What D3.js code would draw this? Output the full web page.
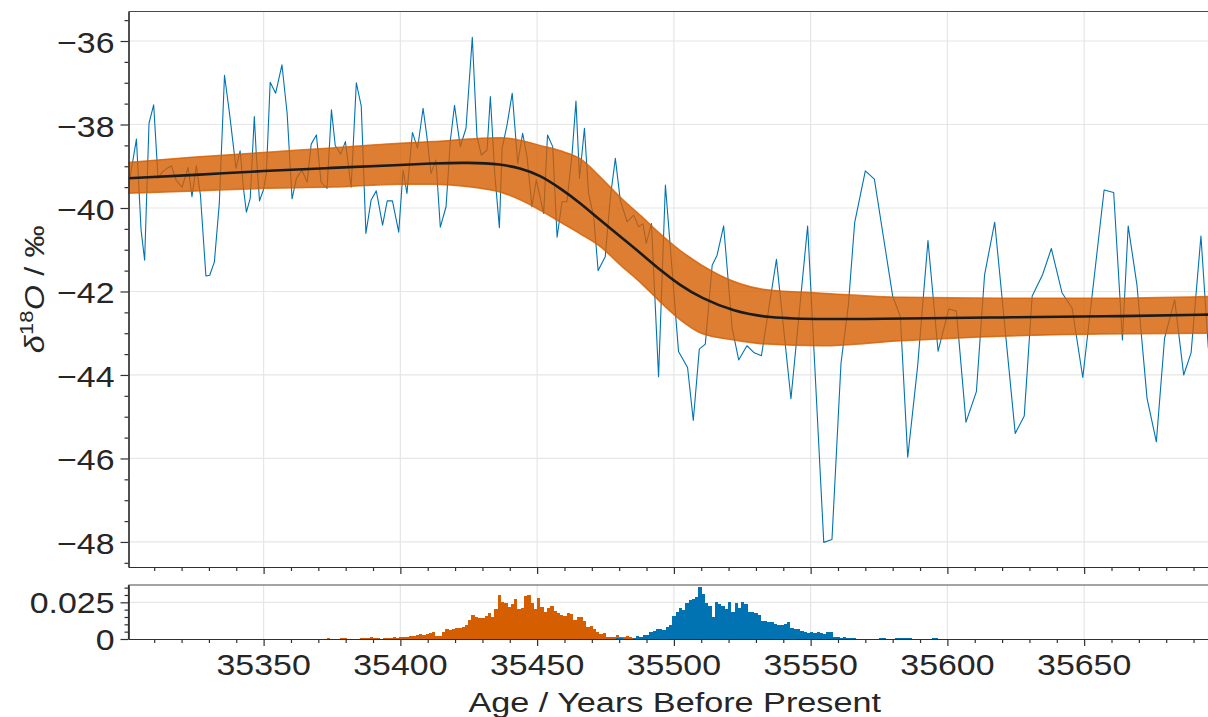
<!DOCTYPE html>
<html><head><meta charset="utf-8">
<script src="https://cdn.jsdelivr.net/npm/d3@7"></script>
<style>
html,body{margin:0;padding:0;background:#fff;overflow:hidden;}
svg{display:block;}
text{font-family:"Liberation Sans",Arial,Helvetica,sans-serif;fill:#262626;}
</style></head><body>
<svg id="chart" width="1208" height="717"></svg>
<script>
// ---------- data ----------
const blueAges = [
35300.6,35303.5,35305.2,35306.5,35308.1,35309.8,35311.4,35313.1,35314.7,35316.3,
35318.0,35320.2,35322.4,35323.8,35325.4,35326.9,35328.9,35330.3,35332.0,35333.8,
35335.7,35337.6,35339.9,35341.4,35342.7,35343.7,35345.1,35346.6,35347.3,35348.5,
35350.0,35351.0,35352.4,35354.4,35356.7,35358.6,35360.4,35362.0,35364.0,35365.9,
35367.4,35369.3,35371.0,35373.2,35374.8,35376.2,35378.2,35379.9,35382.0,35383.9,
35385.7,35387.4,35389.3,35391.2,35393.5,35395.2,35397.1,35399.4,35401.0,35402.4,
35404.4,35406.3,35408.3,35409.7,35411.2,35413.0,35414.6,35416.7,35418.3,35419.8,
35421.9,35424.0,35426.3,35428.0,35429.6,35431.7,35432.9,35434.5,35436.2,35437.2,
35439.0,35440.9,35442.9,35444.7,35446.3,35448.1,35449.7,35452.4,35453.8,35455.7,
35457.3,35459.1,35460.9,35462.8,35464.2,35465.5,35467.3,35468.8,35470.7,35472.3,
35474.9,35476.8,35478.6,35480.4,35482.9,35485.3,35487.1,35488.7,35489.9,35491.8,
35494.4,35496.9,35501.7,35505.0,35507.1,35509.3,35511.5,35514.0,35515.8,35518.2,
35521.3,35523.7,35526.7,35529.4,35532.0,35537.5,35542.8,35548.9,35554.8,35557.8,
35561.1,35563.8,35566.1,35570.0,35573.3,35580.0,35582.8,35585.5,35589.1,35592.9,
35596.6,35600.5,35603.3,35606.8,35610.6,35613.6,35617.3,35624.8,35628.1,35631.0,
35634.8,35638.0,35641.9,35645.6,35649.5,35657.3,35660.8,35664.0,35666.1,35669.3,
35673.0,35676.4,35679.4,35683.1,35686.4,35689.1,35692.7,35695.4];
const blueValues = [
-39.49,-38.35,-40.53,-41.25,-37.97,-37.53,-39.29,-39.13,-39.05,-38.99,
-39.33,-39.50,-39.03,-39.73,-38.99,-39.69,-41.63,-41.61,-41.29,-39.89,
-36.82,-37.77,-39.05,-38.63,-39.57,-40.10,-39.77,-37.81,-38.69,-39.83,
-39.55,-39.17,-36.99,-37.25,-36.57,-37.73,-39.78,-39.29,-39.09,-39.38,
-38.47,-38.25,-39.38,-39.53,-37.65,-38.51,-38.71,-38.41,-39.50,-37.00,
-37.56,-40.61,-39.81,-39.59,-40.41,-39.83,-39.83,-40.58,-39.09,-39.65,
-38.19,-38.57,-37.61,-38.29,-39.17,-38.85,-40.46,-39.97,-38.37,-37.54,
-38.53,-38.09,-35.91,-38.29,-38.73,-38.61,-37.33,-39.17,-40.47,-38.57,
-38.01,-37.25,-38.93,-38.21,-38.77,-39.97,-39.33,-40.13,-38.25,-38.53,
-40.70,-39.85,-39.85,-38.69,-37.44,-39.29,-38.09,-39.65,-40.21,-41.50,
-41.17,-39.73,-38.81,-39.81,-40.33,-40.17,-40.45,-40.38,-40.85,-40.37,
-44.04,-39.45,-43.44,-43.82,-45.09,-43.38,-43.26,-41.37,-41.13,-40.43,
-42.88,-43.64,-43.30,-43.47,-43.54,-41.23,-44.57,-40.43,-48.01,-47.94,
-43.72,-42.32,-40.35,-39.11,-39.31,-42.11,-42.60,-45.97,-43.80,-40.78,
-43.43,-42.42,-42.47,-45.13,-44.40,-41.60,-40.34,-45.40,-44.98,-42.11,
-41.60,-40.97,-42.03,-42.40,-44.06,-39.57,-39.63,-43.16,-40.43,-41.84,
-44.56,-45.60,-43.12,-42.20,-44.00,-43.47,-40.67,-43.36];

const bandAges   = [35300,35325,35350,35375,35400,35412,35425,35437,35444,35451,35458.5,35466,35473,35480.5,35488,35495,35502,35510,35522,35534,35554,35583,35620,35656,35700];
const bandMedian = [-39.29,-39.21,-39.11,-39.04,-38.97,-38.93,-38.91,-38.95,-39.05,-39.21,-39.53,-39.89,-40.29,-40.69,-41.09,-41.49,-41.84,-42.16,-42.48,-42.63,-42.67,-42.65,-42.62,-42.60,-42.55];
const bandUpper  = [-38.91,-38.78,-38.67,-38.56,-38.45,-38.41,-38.35,-38.32,-38.38,-38.50,-38.63,-38.83,-39.25,-39.75,-40.19,-40.62,-41.00,-41.36,-41.76,-41.96,-42.04,-42.14,-42.16,-42.16,-42.11];
const bandLower  = [-39.65,-39.59,-39.53,-39.50,-39.43,-39.43,-39.49,-39.63,-39.81,-40.05,-40.34,-40.63,-40.92,-41.37,-41.80,-42.25,-42.66,-43.00,-43.16,-43.26,-43.30,-43.18,-43.07,-43.02,-43.00];

const binWidth = 1.2;
const orangeBinStart = 35372;
const orangeDensity = [
0,0.0005,0.0003,0,0,0.0005,0.0005,0,0,0,
0.0003,0.001,0.0008,0.001,0.0012,0.0009,0.0005,0.0003,0.0004,0.0006,
0.0008,0.0012,0.001,0.0012,0.0013,0.0013,0.0022,0.0018,0.0028,0.0034,
0.0027,0.0036,0.0043,0.005,0.0018,0.002,0.005,0.0066,0.0058,0.007,
0.0072,0.0077,0.0085,0.0098,0.013,0.0164,0.0148,0.014,0.0145,0.016,
0.0175,0.0152,0.0207,0.0298,0.0255,0.0245,0.022,0.024,0.0275,0.0205,
0.021,0.029,0.030,0.0248,0.0207,0.028,0.022,0.0186,0.0209,0.0225,
0.019,0.0175,0.0163,0.0157,0.018,0.017,0.013,0.0152,0.0152,0.012,
0.0084,0.0089,0.0066,0.0045,0.0034,0.0043,0.0016,0.0014,0.0014,0.0027,
0.0014,0.0014,0.0023,0.0014,0.0010,0.0003];
const blueBinStart = 35479;
const blueDensity = [
0.0007,0.0005,0,0.0003,0.0003,0.0008,0.0023,0.0015,0.0027,0.0027,
0.0045,0.0054,0.007,0.0068,0.006,0.0084,0.0095,0.0159,0.0184,0.0213,
0.020,0.0245,0.0266,0.0275,0.0288,0.0352,0.0306,0.0248,0.0227,0.0152,
0.025,0.024,0.0225,0.0204,0.025,0.0186,0.0248,0.0213,0.0254,0.0236,
0.0182,0.0182,0.018,0.0165,0.0125,0.0125,0.0118,0.0118,0.0105,0.0095,
0.0095,0.0100,0.0114,0.0075,0.0066,0.0066,0.0057,0.0048,0.0043,0.0045,
0.0040,0.0045,0.0040,0.0036,0.0050,0.0050,0.0016,0.0016,0.0010,0.0012,
0.0010,0.0008,0.0010,0.0003,0.0003,0,0.0003,0,0,0.0003,
0.0007,0.0007,0,0,0.0003,0.0007,0.0007,0.0007,0.0007,0.0005,
0,0,0,0,0,0.0003,0.0005,0.0005];

const xTicks = [35350,35400,35450,35500,35550,35600,35650];
const yTicks = [-36,-38,-40,-42,-44,-46,-48];
const histTicks = [0,0.025];
const xLabel = "Age / Years Before Present";

// ---------- layout ----------
const C = {blue:"#0173b2", orange:"#d55e00", axis:"#303030", grid:"#e6e6e6", median:"#1c1c1c"};
const svg = d3.select("#chart");
const xs = d3.scaleLinear().domain([35300.6,35700]).range([128.5,1220.9]);
const ys = d3.scaleLinear().domain([-48.6,-35.293]).range([567,11.5]);
const yh = d3.scaleLinear().domain([0,0.0368]).range([639,585]);
const [L,R] = xs.range();
const [mB,mT] = ys.range();
const [hB,hT] = yh.range();

const xMinor = d3.range(35310,35700,10).filter(v=>v%50!==0);
const yMinor = d3.range(-48.5,-35.2,0.5).filter(v=>Math.abs(v%2)>0.01);
const hMinor = d3.range(0.005,0.0366,0.005).filter(v=>Math.abs(v-0.025)>1e-6);

// grid
const grid = svg.append("g").attr("stroke",C.grid).attr("stroke-width",1.2);
grid.selectAll(".gx").data(xTicks).join("line").attr("x1",d=>xs(d)).attr("x2",d=>xs(d)).attr("y1",mT).attr("y2",mB);
grid.selectAll(".gy").data(yTicks).join("line").attr("class","gy").attr("x1",L).attr("x2",R).attr("y1",d=>ys(d)).attr("y2",d=>ys(d));
grid.selectAll(".hx").data(xTicks).join("line").attr("class","hx").attr("x1",d=>xs(d)).attr("x2",d=>xs(d)).attr("y1",hT).attr("y2",hB);
grid.selectAll(".hy").data([0.025]).join("line").attr("class","hy").attr("x1",L).attr("x2",R).attr("y1",d=>yh(d)).attr("y2",d=>yh(d));

// clip
svg.append("clipPath").attr("id","mclip").append("rect").attr("x",L).attr("y",mT).attr("width",R-L).attr("height",mB-mT);
const plot = svg.append("g").attr("clip-path","url(#mclip)");

const idx = d3.range(blueAges.length);
plot.append("path").datum(idx)
  .attr("d", d3.line().x(i=>xs(blueAges[i])).y(i=>ys(blueValues[i])))
  .attr("fill","none").attr("stroke",C.blue).attr("stroke-width",1.1).attr("stroke-linejoin","round");

const bi = d3.range(bandAges.length);
plot.append("path").datum(bi)
  .attr("d", d3.area().curve(d3.curveMonotoneX).x(i=>xs(bandAges[i])).y0(i=>ys(bandLower[i])).y1(i=>ys(bandUpper[i])))
  .attr("fill",C.orange).attr("fill-opacity",0.8).attr("stroke","none");
[bandUpper,bandLower].forEach(arr=>{
  plot.append("path").datum(bi)
    .attr("d", d3.line().curve(d3.curveMonotoneX).x(i=>xs(bandAges[i])).y(i=>ys(arr[i])))
    .attr("fill","none").attr("stroke",C.orange).attr("stroke-opacity",0.8).attr("stroke-width",1.5);
});
plot.append("path").datum(bi)
  .attr("d", d3.line().curve(d3.curveBasis).x(i=>xs(bandAges[i])).y(i=>ys(bandMedian[i])))
  .attr("fill","none").attr("stroke",C.median).attr("stroke-width",2.6);

// histogram
const hist = svg.append("g").attr("shape-rendering","crispEdges");
function bars(start, dens, color){
  hist.append("g").selectAll("rect").data(dens.map((d,i)=>({x0:start+i*binWidth,x1:start+(i+1)*binWidth,v:d})).filter(d=>d.v>0))
    .join("rect").attr("x",d=>xs(d.x0)).attr("width",d=>xs(d.x1)-xs(d.x0))
    .attr("y",d=>yh(d.v)).attr("height",d=>yh(0)-yh(d.v)).attr("fill",color);
}
bars(orangeBinStart, orangeDensity, C.orange);
bars(blueBinStart, blueDensity, C.blue);

// axes
function styleAxis(g){ g.selectAll("path,line").attr("stroke",C.axis).attr("stroke-width",1.2); g.selectAll("text").remove(); }
svg.append("g").attr("transform",`translate(${L},0)`).call(d3.axisLeft(ys).tickValues(yTicks).tickSize(8).tickSizeOuter(0)).call(styleAxis);
svg.append("g").attr("transform",`translate(${L},0)`).call(d3.axisLeft(ys).tickValues(yMinor).tickSize(4).tickSizeOuter(0)).call(styleAxis);
svg.append("g").attr("transform",`translate(0,${mB})`).call(d3.axisBottom(xs).tickValues(xTicks).tickSize(7).tickSizeOuter(0)).call(styleAxis);
svg.append("g").attr("transform",`translate(0,${mB})`).call(d3.axisBottom(xs).tickValues(xMinor).tickSize(4).tickSizeOuter(0)).call(styleAxis);
svg.append("line").attr("x1",L).attr("x2",R).attr("y1",mT).attr("y2",mT).attr("stroke","#4a4a4a").attr("stroke-width",1.2);

svg.append("g").attr("transform",`translate(${L},0)`).call(d3.axisLeft(yh).tickValues(histTicks).tickSize(8).tickSizeOuter(0)).call(styleAxis);
svg.append("g").attr("transform",`translate(${L},0)`).call(d3.axisLeft(yh).tickValues(hMinor).tickSize(4).tickSizeOuter(0)).call(styleAxis);
svg.append("g").attr("transform",`translate(0,${hB})`).call(d3.axisBottom(xs).tickValues(xTicks).tickSize(7).tickSizeOuter(0)).call(styleAxis);
svg.append("g").attr("transform",`translate(0,${hB})`).call(d3.axisBottom(xs).tickValues(xMinor).tickSize(4).tickSizeOuter(0)).call(styleAxis);
svg.append("line").attr("x1",L).attr("x2",R).attr("y1",hT).attr("y2",hT).attr("stroke","#4a4a4a").attr("stroke-width",1.2);
svg.append("line").attr("x1",L).attr("x2",L).attr("y1",hT).attr("y2",hB).attr("stroke",C.axis).attr("stroke-width",1.2);

// labels
const fmtY = d3.format("d");
function label(x,y,s,anchor,size,sx){
  return svg.append("text").attr("transform",`translate(${x},${y}) scale(${sx},1)`)
    .attr("text-anchor",anchor).style("font-size",size+"px").text(s);
}
yTicks.forEach(v=>label(114.5, ys(v)+12, fmtY(v), "end", 30, 1.13));
histTicks.forEach(v=>label(114.5, yh(v)+11, v===0?"0":d3.format(".3f")(v), "end", 30, 1.13));
xTicks.forEach(v=>label(xs(v), 675, String(v), "middle", 30, 1.13));
label((L+R)/2, 712, xLabel, "middle", 28.5, 1.2);

const ylScale = 1.15;
const yl = svg.append("text").attr("transform",`translate(44,${(mT+mB)/2}) rotate(-90) scale(${ylScale},1)`)
  .attr("text-anchor","middle").style("font-size","28px")
  .attr("textLength", 128/ylScale).attr("lengthAdjust","spacing");
yl.append("tspan").style("font-style","italic").text("δ");
yl.append("tspan").attr("dy",-11).style("font-size","19px").text("18");
yl.append("tspan").attr("dy",11).style("font-style","italic").text("O");
yl.append("tspan").text(" / ‰");
</script>
</body></html>
